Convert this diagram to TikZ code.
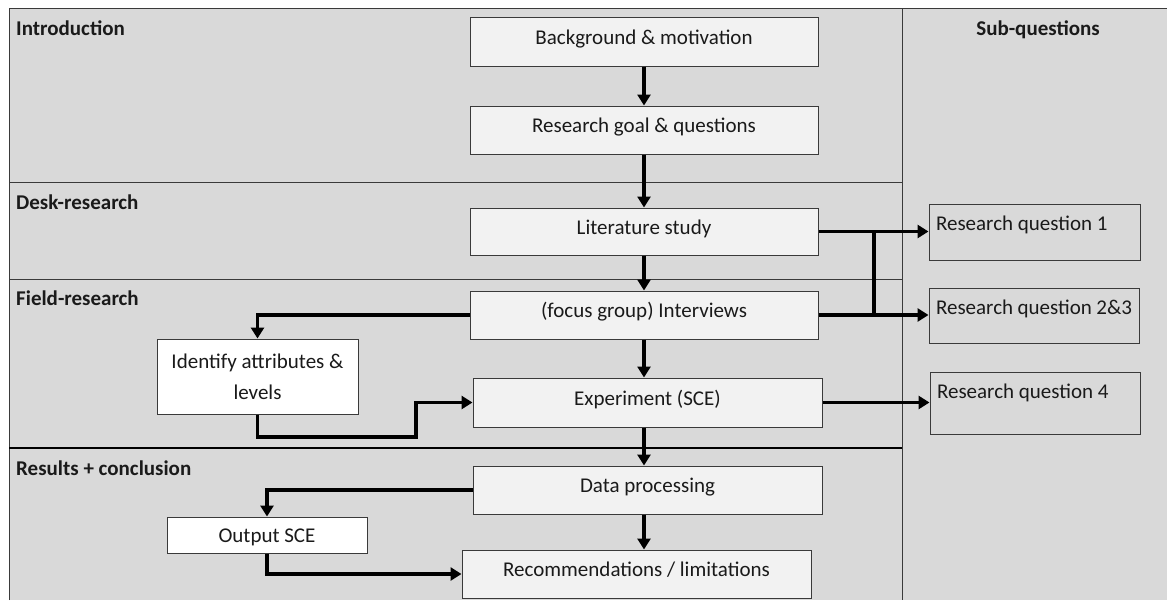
\documentclass[tikz,border=0pt]{standalone}
\usepackage{fontspec}
\setmainfont{Carlito}
\usetikzlibrary{arrows.meta}
\definecolor{panel}{HTML}{D9D9D9}
\definecolor{boxfill}{HTML}{F2F2F2}
\definecolor{edge}{HTML}{3A3A3A}
\definecolor{ink}{HTML}{1A1A1A}
\newcommand\bodysize{\fontsize{21pt}{31pt}\selectfont}
\tikzset{
  stepbox/.style={draw=edge, line width=1pt, fill=boxfill, inner sep=0pt,
    text=ink, font=\bodysize, minimum width=#1, text height=15pt, text depth=10pt},
  stepbox/.default=348pt,
  sidebox/.style={stepbox=#1, fill=white},
  qbox/.style={draw=edge, line width=1pt, inner xsep=7pt, inner ysep=0pt,
    text=ink, font=\bodysize},
  phase/.style={anchor=base west, font=\bodysize\bfseries, text=ink, inner sep=0pt},
  flow/.style={line width=3.5pt, draw=black},
  arr/.style={flow, -{Triangle[length=11pt,width=13pt]}},
  divider/.style={draw=edge, line width=1pt},
}
\begin{document}
\begin{tikzpicture}[x=1pt,y=-1pt]
\useasboundingbox (0,0) rectangle (1167,600);

% panel and section dividers
\fill[panel] (9,8) rectangle (1167,600);
\draw[divider] (9,600) -- (9,8) -- (1167,8);
\draw[divider] (902,8) -- (902,600);
\draw[divider] (9,182) -- (902,182);
\draw[divider] (9,279) -- (902,279);
\draw[draw=black, line width=2pt] (9,448) -- (902,448);

% section headings
\node[phase] (hintro) at (16,35) {Introduction};
\node[phase] (hdesk) at (16,209) {Desk-research};
\node[phase] (hfield) at (16,305) {Field-research};
\node[phase] (hres) at (16,475) {Results + conclusion};
\node[phase, anchor=base] (hsub) at (1038,35) {Sub-questions};

% main chain
\node[stepbox, minimum height=49pt] (bg) at (644,41.5) {Background \& motivation};
\node[stepbox, minimum height=48pt] (rg) at (644,130) {Research goal \& questions};
\node[stepbox, minimum height=47pt] (lit) at (644,231.5) {Literature study};
\node[stepbox, minimum height=48pt] (int) at (644,315) {(focus group) Interviews};
\node[stepbox=349pt, minimum height=49pt] (exp) at (647.5,402.5) {Experiment (SCE)};
\node[stepbox=349pt, minimum height=48pt] (dp) at (647.5,490) {Data processing};
\node[stepbox=349pt, minimum height=48pt] (rec) at (636.5,574) {Recommendations / limitations};

% side steps
\node[sidebox=201pt, minimum height=75pt, align=center, text height=, text depth=]
  (ident) at (257.5,376.5) {Identify attributes \&\\levels};
\node[sidebox=200pt, minimum height=36pt, text height=19pt, text depth=5pt]
  (out) at (267,535) {Output SCE};

% sub-questions
\node[qbox] (rq1) at (1034.5,232)
  {\parbox[c][56pt][t]{197pt}{\rule{0pt}{26pt}Research question 1}};
\node[qbox] (rq23) at (1034,315.5)
  {\parbox[c][55pt][t]{196pt}{\rule{0pt}{26pt}Research question 2\&3}};
\node[qbox] (rq4) at (1035,403)
  {\parbox[c][62pt][t]{196pt}{\rule{0pt}{26pt}Research question 4}};

% vertical flow
\draw[arr] (bg) -- (rg);
\draw[arr] (rg) -- (lit);
\draw[arr] (lit) -- (int);
\draw[arr] (int.south) -- (int.south |- exp.north);
\draw[arr] (exp.south -| int.south) -- (dp.north -| int.south);
\draw[arr] (dp.south -| int.south) -- (rec.north -| int.south);

% links to the sub-questions
\coordinate (join) at (874,0);
\draw[arr] (lit.east) -- (lit.east -| rq1.west);
\draw[arr] (int.east) -- (int.east -| rq23.west);
\draw[flow] (lit.east -| join) -- (int.east -| join);
\draw[arr] (exp.east) -- (exp.east -| rq4.west);

% side loops
\coordinate (bend) at (416,437);
\draw[arr] (int.west) -| (ident.north);
\draw[arr] (ident.south) |- (bend) |- (exp.west);
\draw[arr] (dp.west) -| (out.north);
\draw[arr] (out.south) |- (rec.west);
\end{tikzpicture}
\end{document}
